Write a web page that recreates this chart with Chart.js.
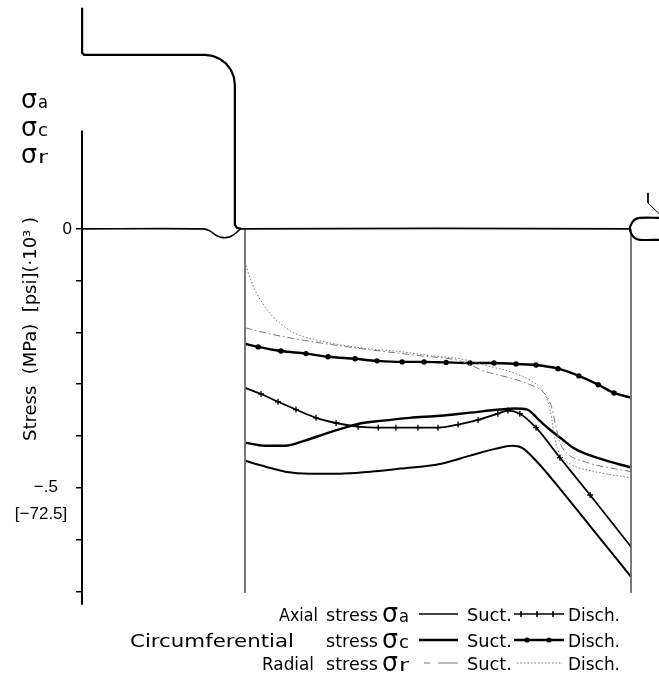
<!DOCTYPE html>
<html><head><meta charset="utf-8">
<script src="https://cdn.jsdelivr.net/npm/chart.js@4.4.1/dist/chart.umd.min.js"></script>
<style>html,body{margin:0;padding:0;background:#fff}#wrap{width:659px;height:692px}</style>
</head><body><div id="wrap"><canvas id="c" width="659" height="692"></canvas></div>
<script>
// x: position along the section (0 = left edge, 100 = right edge); y: stress in MPa
const circDischX = [0, 3.4, 9.3, 15.8, 21.5, 28.5, 34.2, 40.7, 46.4, 52.1, 58.3, 64.5, 70.2, 75.4, 81.1, 86.5, 91.5, 95.6, 100];
const circDischY = [-0.222, -0.228, -0.236, -0.241, -0.247, -0.251, -0.255, -0.257, -0.257, -0.258, -0.259, -0.259, -0.261, -0.263, -0.270, -0.284, -0.301, -0.317, -0.326];

const axialDischX = [0, 4.15, 8.55, 13.2, 18.4, 23.6, 29.3, 34.5, 39.1, 44.8, 50.0, 55.2, 60.4, 65.5, 68.1, 71.2, 75.4, 81.6, 89.4, 100];
const axialDischY = [-0.307, -0.319, -0.334, -0.349, -0.365, -0.375, -0.382, -0.384, -0.384, -0.384, -0.384, -0.378, -0.369, -0.357, -0.351, -0.357, -0.384, -0.442, -0.514, -0.614];

const circSuctX = [0, 5.2, 10.4, 15.5, 20.7, 25.9, 29.8, 35.0, 42.7, 50.5, 58.3, 66.1, 69.9, 73.1, 76.4, 79.0, 81.6, 85.5, 92.0, 100];
const circSuctY = [-0.413, -0.419, -0.419, -0.409, -0.396, -0.384, -0.376, -0.371, -0.365, -0.361, -0.355, -0.349, -0.347, -0.349, -0.371, -0.388, -0.403, -0.425, -0.444, -0.461];

const axialSuctX = [0, 5.2, 10.4, 16.8, 24.6, 32.4, 40.2, 50.5, 58.3, 64.8, 69.2, 71.8, 75.4, 81.6, 89.4, 100];
const axialSuctY = [-0.448, -0.459, -0.469, -0.473, -0.473, -0.469, -0.463, -0.454, -0.438, -0.425, -0.419, -0.423, -0.448, -0.502, -0.574, -0.672];

const radialDischX = [0, 1.3, 2.85, 4.66, 7.0, 9.84, 13.2, 18.1, 24.6, 32.4, 40.2, 47.9, 55.7, 62.4, 68.7, 73.8, 76.9, 78.5, 79.5, 80.3, 81.6, 84.2, 90.7, 100];
const radialDischY = [-0.064, -0.095, -0.122, -0.145, -0.168, -0.187, -0.203, -0.214, -0.224, -0.232, -0.237, -0.245, -0.251, -0.264, -0.276, -0.292, -0.311, -0.334, -0.369, -0.407, -0.436, -0.454, -0.469, -0.481];

const radialSuctX = [0, 6.48, 14.25, 24.6, 35.0, 45.3, 55.7, 62.4, 68.7, 73.8, 77.7, 79.5, 80.6, 81.6, 83.2, 88.1, 100];
const radialSuctY = [-0.191, -0.203, -0.214, -0.226, -0.236, -0.245, -0.255, -0.276, -0.288, -0.301, -0.319, -0.346, -0.384, -0.413, -0.432, -0.450, -0.469];

// shaft outline (drawing geometry), same units
const profileX = [-42.2, -42.2, -41.7, -10.4, -8.39, -6.52, -4.91, -3.67, -2.89, -2.63, -2.63, -2.1, -1.0];
const profileY = [0.427, 0.340, 0.336, 0.336, 0.334, 0.328, 0.319, 0.307, 0.293, 0.278, 0.008, 0.002, 0];
const zeroLineX = [-42.2, -10.9, -9.1, -7.3, -5.7, -3.9, -2.3, -1.0, 100];
const zeroLineY = [0, 0, -0.004, -0.0135, -0.017, -0.0155, -0.008, 0, 0];
const endCapX = [107.3, 102.3, 101.0, 100.1, 99.7, 100.1, 101.0, 102.3, 107.3];
const endCapY = [0.0212, 0.0212, 0.018, 0.010, 0, -0.010, -0.018, -0.0212, -0.0212];
const slashX = [104.4, 104.4, 107.3];
const slashY = [0.0695, 0.050, 0.029];
const boundLeftX = [0, 0], boundLeftY = [0, -0.703];
const boundRightX = [100, 100], boundRightY = [0, -0.703];

const yTickValues = [-0.7, -0.6, -0.5, -0.4, -0.3, -0.2, -0.1, 0];
const yAxisTop = 0.19, yAxisBottom = -0.726;
const axisTitle = 'Stress  (MPa)  [psi](·10³ )';
const sigmaSubs = ['a', 'c', 'r'];
const legendNames = ['Axial', 'Circumferential', 'Radial'];

const pts = (xs, ys) => xs.map((x, i) => ({x: x, y: ys[i]}));
const FONT = '"Liberation Sans", Arial, sans-serif';
const TFONT = '"DejaVu Sans", sans-serif';

function line(data, color, width, extra) {
  return Object.assign({data: data, borderColor: color, backgroundColor: color, borderWidth: width,
    pointRadius: 0, fill: false, clip: false, cubicInterpolationMode: 'monotone'}, extra || {});
}
const markerR = (r) => (c) => (c.dataIndex === 0 || c.dataIndex === c.dataset.data.length - 1) ? 0 : r;

function fitText(ctx, txt, x0, x1, yb, font) {
  ctx.save();
  ctx.font = font; ctx.textAlign = 'left'; ctx.textBaseline = 'alphabetic';
  const w = ctx.measureText(txt).width;
  ctx.translate(x0, yb); ctx.scale((x1 - x0) / w, 1);
  ctx.fillText(txt, 0, 0);
  ctx.restore();
}
function sigma(ctx, sub, x, yb) {
  fitText(ctx, 'σ', x, x + 16, yb + 1, '27px ' + TFONT);
  fitText(ctx, sub, x + 17, x + 27, yb + 1, '18px ' + TFONT);
}

const deco = {
  id: 'deco',
  afterDraw(chart) {
    const ctx = chart.ctx, ys = chart.scales.y, ca = chart.chartArea;
    ctx.save();
    ctx.fillStyle = '#000'; ctx.strokeStyle = '#000';
    ctx.lineWidth = 2;
    ctx.beginPath(); ctx.moveTo(ca.left, ys.getPixelForValue(yAxisTop)); ctx.lineTo(ca.left, ys.getPixelForValue(yAxisBottom)); ctx.stroke();
    ctx.save();
    ctx.translate(36, 441); ctx.rotate(-Math.PI / 2);
    fitText(ctx, axisTitle, 0, 224, 0, '17px ' + TFONT);
    ctx.restore();
    const sy = [107, 135, 162];
    sigmaSubs.forEach((s, i) => sigma(ctx, s, 21, sy[i]));
    const rows = [
      {b: 621, name: [279, 318], st: [326, 378]},
      {b: 647, name: [130, 294], st: [326, 378]},
      {b: 670, name: [262, 314], st: [326, 378]}
    ];
    const f = '18px ' + TFONT;
    rows.forEach((r, i) => {
      fitText(ctx, legendNames[i], r.name[0], r.name[1], r.b, f);
      fitText(ctx, 'stress', r.st[0], r.st[1], r.b, f);
      sigma(ctx, sigmaSubs[i], 382, r.b);
      fitText(ctx, 'Suct.', 467, 512, r.b, f);
      fitText(ctx, 'Disch.', 568, 620, r.b, f);
      const ly = r.b - 7;
      ctx.save();
      if (i === 0) {
        ctx.lineWidth = 1.6; ctx.beginPath(); ctx.moveTo(419, ly); ctx.lineTo(458, ly); ctx.stroke();
        ctx.beginPath(); ctx.moveTo(514, ly); ctx.lineTo(564, ly); ctx.stroke();
        [521, 537, 553].forEach(x => { ctx.beginPath(); ctx.moveTo(x, ly - 3); ctx.lineTo(x, ly + 3); ctx.stroke(); });
      } else if (i === 1) {
        ctx.lineWidth = 2.4; ctx.beginPath(); ctx.moveTo(419, ly); ctx.lineTo(458, ly); ctx.stroke();
        ctx.beginPath(); ctx.moveTo(514, ly); ctx.lineTo(564, ly); ctx.stroke();
        [527, 549].forEach(x => { ctx.beginPath(); ctx.arc(x, ly, 2.6, 0, Math.PI * 2); ctx.fill(); });
      } else {
        ctx.strokeStyle = '#777'; ctx.lineWidth = 1;
        ctx.setLineDash([6, 3, 1.5, 3]); ctx.beginPath(); ctx.moveTo(424, ly); ctx.lineTo(432, ly); ctx.stroke();
        ctx.setLineDash([]); ctx.beginPath(); ctx.moveTo(438, ly); ctx.lineTo(458, ly); ctx.stroke();
        ctx.setLineDash([1.5, 2]); ctx.beginPath(); ctx.moveTo(517, ly); ctx.lineTo(563, ly); ctx.stroke();
      }
      ctx.restore();
    });
    ctx.restore();
  }
};

new Chart(document.getElementById('c'), {
  type: 'line',
  data: {
    datasets: [
      line(pts(zeroLineX, zeroLineY), '#000', 1.6, {cubicInterpolationMode: 'default', tension: 0.3}),
      line(pts(profileX, profileY), '#000', 2.2, {cubicInterpolationMode: 'default', tension: 0}),
      line(pts(endCapX, endCapY), '#000', 2.2, {cubicInterpolationMode: 'default', tension: 0.4}),
      line(pts(slashX, slashY), '#000', 1, {cubicInterpolationMode: 'default', tension: 0}),
      line(pts(boundLeftX, boundLeftY), '#666', 1, {cubicInterpolationMode: 'default'}),
      line(pts(boundRightX, boundRightY), '#666', 1, {cubicInterpolationMode: 'default'}),
      line(pts(radialDischX, radialDischY), '#777', 1, {borderDash: [1.5, 2]}),
      line(pts(radialSuctX, radialSuctY), '#777', 1, {borderDash: [7, 3, 1.5, 3]}),
      line(pts(circDischX, circDischY), '#000', 2.4, {pointRadius: markerR(2.7), pointStyle: 'circle', pointBorderWidth: 0}),
      line(pts(axialDischX, axialDischY), '#000', 1.8, {pointRadius: markerR(3), pointStyle: 'cross', pointBorderWidth: 1.3}),
      line(pts(circSuctX, circSuctY), '#000', 2.4),
      line(pts(axialSuctX, axialSuctY), '#000', 2)
    ]
  },
  options: {
    responsive: false, animation: false, devicePixelRatio: 1, events: [],
    layout: {padding: {left: 0, right: 0, top: 1, bottom: 80}},
    plugins: {legend: {display: false}, tooltip: {enabled: false}},
    scales: {
      x: {type: 'linear', display: false, min: -42.23, max: 107.25},
      y: {
        type: 'linear', min: -0.74, max: 0.44,
        afterBuildTicks: (s) => { s.ticks = yTickValues.map(v => ({value: v})); },
        afterFit: (s) => { s.width = 82; s.paddingTop = 0; s.paddingBottom = 0; },
        border: {display: false},
        grid: {drawOnChartArea: false, drawTicks: true, tickLength: 6, lineWidth: 1.5,
          color: (c) => (c.tick && c.tick.value > 0) ? 'rgba(0,0,0,0)' : '#000'},
        ticks: {
          padding: 4, color: '#000', font: {family: FONT, size: 17, lineHeight: 1.55},
          callback: (v) => {
            if (Math.abs(v) < 1e-9) return '0';
            if (Math.abs(v + 0.5) < 1e-9) return ['', '−.5   ', '[−72.5] '];
            return '';
          }
        }
      }
    }
  },
  plugins: [deco]
});
</script>
</body></html>
